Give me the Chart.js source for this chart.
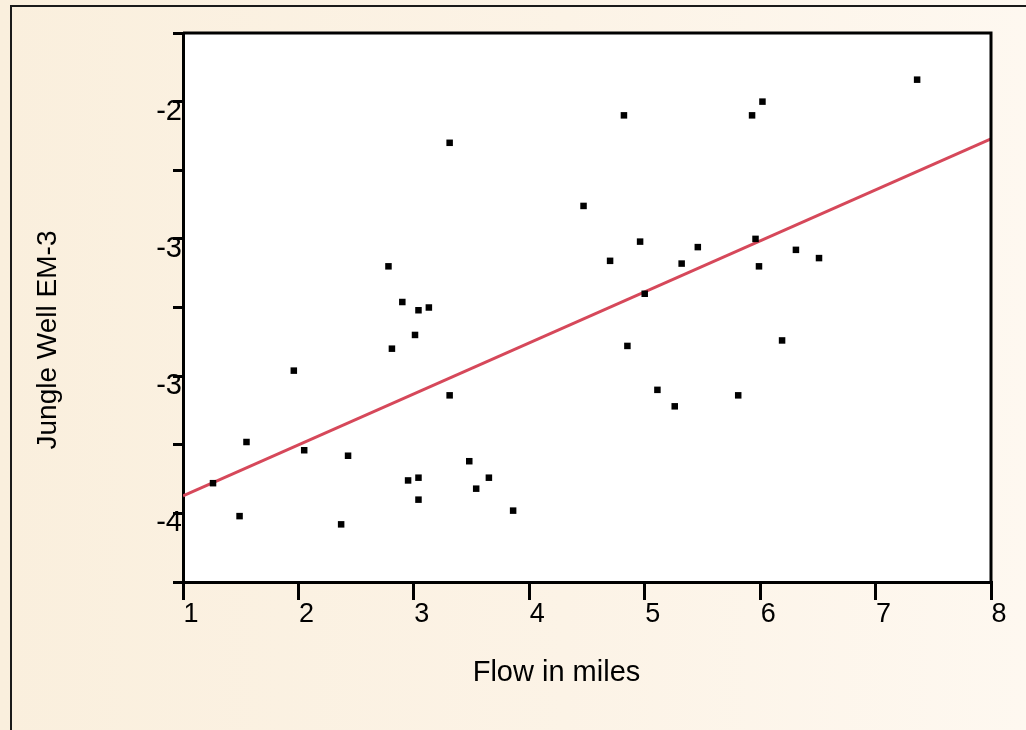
<!DOCTYPE html>
<html>
<head>
<meta charset="utf-8">
<title>Jungle Well EM-3</title>
<script src="https://cdn.jsdelivr.net/npm/chart.js@4.4.1/dist/chart.umd.min.js"></script>
<style>
  html, body { margin: 0; padding: 0; overflow: hidden; }
  body {
    width: 1026px; height: 730px; position: relative;
    background: linear-gradient(to right, #faefdd 0%, #fcf3e6 55%, #fef8f0 100%);
  }
  #frame { position: absolute; left: 10px; top: 5px; width: 1100px; height: 800px; border: 2px solid #1a1a1a; }
  #wrap { position: absolute; left: 0; top: 0; width: 1026px; height: 730px; }
</style>
</head>
<body>
<div id="frame"></div>
<div id="wrap"><canvas id="scatterChart"></canvas></div>
<script>
// values
const flowMiles = [1.26, 1.49, 1.55, 1.96, 2.05, 2.37, 2.43, 2.78, 2.81, 2.90, 2.95, 3.01, 3.04, 3.04,
  3.04, 3.13, 3.31, 3.31, 3.48, 3.54, 3.65, 3.86, 4.47, 4.70, 4.82, 4.85, 4.96, 5.00, 5.11, 5.26,
  5.32, 5.46, 5.81, 5.93, 5.96, 5.99, 6.02, 6.19, 6.31, 6.51, 7.36];
const wellLevel = [-3.39, -3.51, -3.24, -2.98, -3.27, -3.54, -3.29, -2.60, -2.90, -2.73, -3.38, -2.85, -2.76, -3.37,
  -3.45, -2.75, -2.15, -3.07, -3.31, -3.41, -3.37, -3.49, -2.38, -2.58, -2.05, -2.89, -2.51, -2.70, -3.05, -3.11,
  -2.59, -2.53, -3.07, -2.05, -2.50, -2.60, -2.00, -2.87, -2.54, -2.57, -1.92];

// fitted line, both ends
const fitX = [1, 8];
const fitY = [-3.436, -2.136];

// y labels as printed (rounded to whole numbers)
const yTickValues = [-2, -2.5, -3, -3.5];
const yTickLabels = ['-2', '-3', '-3', '-4'];

Chart.defaults.font.family = "'Liberation Sans', Arial, sans-serif";
Chart.defaults.color = '#000';

const plotFrame = {
  id: 'plotFrame',
  beforeDraw(chart) {
    const { ctx, chartArea: a } = chart;
    ctx.save();
    ctx.fillStyle = '#fff';
    ctx.fillRect(a.left, a.top, a.right - a.left, a.bottom - a.top);
    ctx.restore();
  },
  afterDraw(chart) {
    const { ctx, chartArea: a } = chart;
    ctx.save();
    ctx.strokeStyle = '#000';
    ctx.lineWidth = 3;
    ctx.beginPath();
    ctx.moveTo(a.left, a.top);
    ctx.lineTo(a.right, a.top);
    ctx.lineTo(a.right, a.bottom);
    ctx.stroke();
    ctx.restore();
  }
};

const ctx = document.getElementById('scatterChart').getContext('2d');
new Chart(ctx, {
  type: 'scatter',
  data: {
    datasets: [
      {
        data: flowMiles.map((x, i) => ({ x: x, y: wellLevel[i] })),
        pointStyle: 'rect',
        pointRadius: 4.6,
        backgroundColor: '#000',
        borderWidth: 0,
        order: 0
      },
      {
        data: fitX.map((x, i) => ({ x: x, y: fitY[i] })),
        showLine: true,
        borderColor: '#d6485a',
        borderWidth: 3,
        pointRadius: 0,
        fill: false,
        order: 1
      }
    ]
  },
  options: {
    responsive: true,
    maintainAspectRatio: false,
    animation: false,
    events: [],
    layout: { padding: { left: 122, right: 35, top: 33, bottom: 83 } },
    plugins: {
      legend: { display: false },
      tooltip: { enabled: false },
      title: {
        display: true,
        position: 'left',
        text: 'Jungle Well EM-3',
        color: '#000',
        font: { size: 28, weight: 'normal' },
        padding: { top: -90.5, bottom: 56.9 }
      },
      subtitle: {
        display: true,
        position: 'bottom',
        text: 'Flow in miles',
        color: '#000',
        font: { size: 29, weight: 'normal' },
        padding: { top: 28.6, bottom: -43.4 }
      }
    },
    scales: {
      x: {
        type: 'linear',
        min: 1,
        max: 8,
        afterFit: s => { s.height = 45; },
        ticks: { stepSize: 1, labelOffset: 8, padding: -2, color: '#000', font: { size: 27 } },
        grid: { drawOnChartArea: false, color: '#000', lineWidth: 3, tickLength: 18 },
        border: { color: '#000', width: 3 }
      },
      y: {
        type: 'linear',
        min: -3.75,
        max: -1.75,
        afterFit: s => { s.width = 61; },
        ticks: {
          stepSize: 0.25,
          labelOffset: 10,
          padding: -9,
          color: '#000',
          font: { size: 29 },
          callback: v => {
            const i = yTickValues.findIndex(t => Math.abs(t - v) < 1e-6);
            return i < 0 ? '' : yTickLabels[i];
          }
        },
        grid: { drawOnChartArea: false, color: '#000', lineWidth: 3, tickLength: 10 },
        border: { color: '#000', width: 3 }
      }
    }
  },
  plugins: [plotFrame]
});
</script>
</body>
</html>
